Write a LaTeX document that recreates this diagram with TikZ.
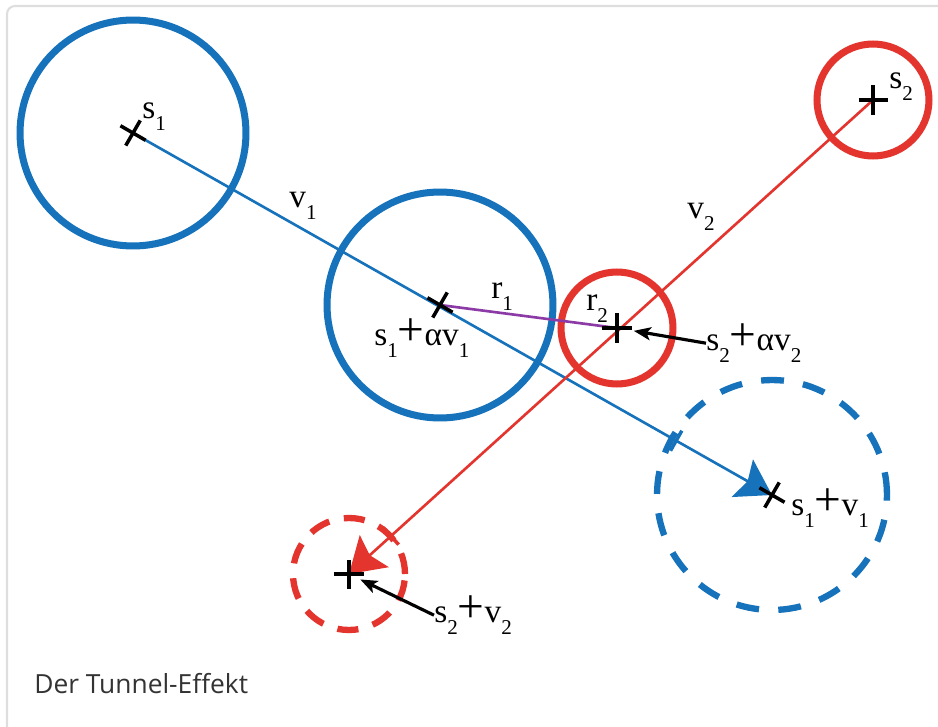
\documentclass[tikz,border=0pt]{standalone}
\usepackage{fontspec}
\setmainfont{Liberation Serif}
\newfontfamily\capfont{Open Sans}
\usepackage{tikz}
\usetikzlibrary{arrows.meta,shapes.misc}
\definecolor{mblue}{RGB}{22,114,186}
\definecolor{mred}{RGB}{228,52,46}
\definecolor{mpurple}{RGB}{140,58,165}
\newcommand\ix[1]{\raisebox{-7pt}{\fontsize{12}{12}\selectfont #1}}
\newcommand\pl{\raisebox{-0.5pt}{\fontsize{27}{27}\selectfont +}}
\tikzset{
  ring/.style={draw=#1,line width=4pt},
  ghost/.style={draw=#1,line width=3.6pt,dash pattern=on 13pt off 11pt},
  vec/.style={draw=#1,line width=1.5pt,-{Stealth[length=0.68cm,width=0.86cm,inset=0.12cm]}},
  mk/.style={draw,cross out,line width=2pt,minimum size=0.34cm,inner sep=0pt,rotate=#1},
  tk/.style={fill=#1,inner sep=0pt,minimum width=0.07cm,minimum height=0.46cm},
  lbl/.style={font=\fontsize{19}{22}\selectfont,anchor=base west,inner sep=0pt},
  ptr/.style={-{Stealth[length=0.34cm,width=0.26cm,inset=0.08cm]},line width=1.8pt,shorten >=#1}
}

\begin{document}
\begin{tikzpicture}[x=0.02cm,y=-0.02cm]
\useasboundingbox (0,0) rectangle (938,727);
% frame
\begin{scope}
\clip (0,0) rectangle (938,727);
\draw[black!13,line width=1.2pt,rounded corners=0.16cm] (7,6) rectangle (990,780);
\end{scope}
% positions
\coordinate (s1) at (133,133);
\coordinate (m1) at (440,305);
\coordinate (e1) at (772,495);
\coordinate (s2) at (873,100);
\coordinate (m2) at (617,328);
\coordinate (e2) at (349,574);
% circles
\draw[ring=mblue] (s1) circle[radius=2.26cm];
\draw[ring=mblue] (m1) circle[radius=2.26cm];
\draw[ghost=mblue] (e1) circle[radius=2.3cm];
\draw[ring=mred] (s2) circle[radius=1.12cm];
\draw[ring=mred] (m2) circle[radius=1.12cm];
\draw[ghost=mred,dash pattern=on 12pt off 8.5pt] (e2) circle[radius=1.12cm];
% vectors
\draw[vec=mblue] (s1) -- (e1) node[tk=mblue,pos=.85,sloped]{};
\draw[vec=mred] (s2) -- (e2) node[tk=mred,pos=.92,sloped]{};
\draw[mpurple,line width=1.5pt] (m1) -- (m2);
% marks
\foreach \p/\r in {s1/15,m1/15,e1/15,s2/45,m2/45,e2/45}
  \node[mk=\r] at (\p) {};
% labels
\node[lbl] (l1) at (142,118) {s\ix{1}};
\node[lbl] (l2) at (289,207) {v\ix{1}};
\node[lbl] (l3) at (491,298) {r\ix{1}};
\node[lbl] (l4) at (586,310) {r\ix{2}};
\node[lbl] (l5) at (374,345) {s\ix{1}\pl αv\ix{1}};
\node[lbl] (l6) at (706,350) {s\ix{2}\pl αv\ix{2}};
\node[lbl] (l7) at (687,218) {v\ix{2}};
\node[lbl] (l8) at (889,88) {s\ix{2}};
\node[lbl] (l9) at (791,515) {s\ix{1}\pl v\ix{1}};
\node[lbl] (l10) at (434,622) {s\ix{2}\pl v\ix{2}};
\draw[ptr=0.34cm] (l6.west) -- (m2);
\draw[ptr=0.25cm] (l10.west) -- (e2);
% caption
\node[font=\capfont\fontsize{15}{18}\selectfont,text=black!80,anchor=base west,inner sep=0pt] (cap) at (34,693) {Der Tunnel-Effekt};
\end{tikzpicture}
\end{document}
